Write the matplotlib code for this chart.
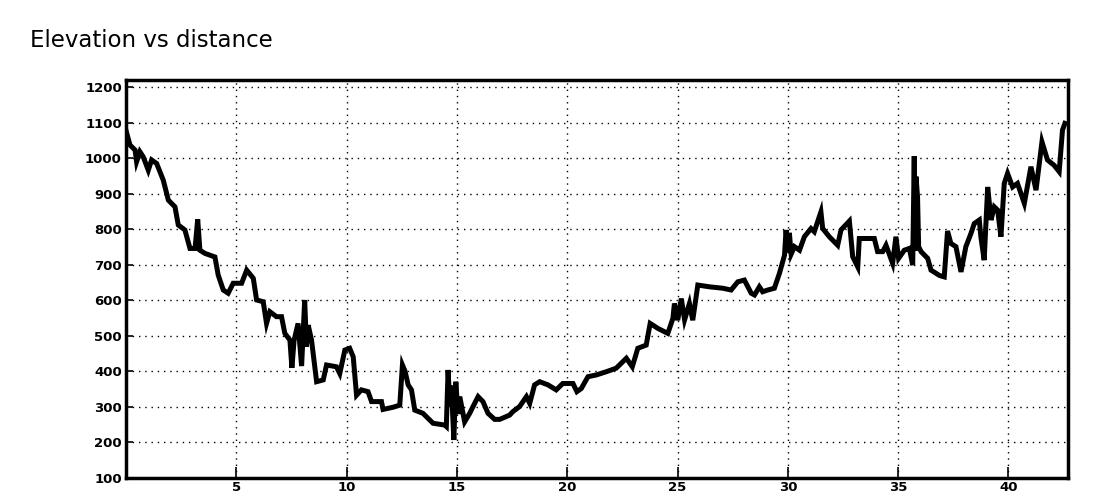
import matplotlib
matplotlib.use("Agg")
import matplotlib.pyplot as plt

# distance (km) and elevation (m)
dist = [0.0, 0.18, 0.41, 0.48, 0.63, 0.78, 1.01, 1.16, 1.39, 1.69, 1.92, 2.22, 2.37, 2.67,
        2.90, 3.13, 3.25, 3.35, 3.58, 4.03, 4.18, 4.41, 4.63, 4.86, 5.24, 5.47, 5.77, 5.92,
        6.22, 6.37, 6.52, 6.82, 7.05, 7.20, 7.43, 7.52, 7.62, 7.80, 7.96, 8.10, 8.18, 8.26,
        8.41, 8.64, 8.94, 9.09, 9.54, 9.69, 9.92, 10.14, 10.30, 10.45, 10.67, 10.97, 11.13,
        11.58, 11.65, 12.10, 12.41, 12.53, 12.65, 12.79, 12.94, 13.09, 13.46, 13.69, 13.92,
        14.45, 14.52, 14.60, 14.68, 14.75, 14.86, 14.95, 15.05, 15.13, 15.35, 15.58, 15.73,
        15.96, 16.18, 16.41, 16.71, 16.94, 17.39, 17.54, 17.84, 18.15, 18.30, 18.52, 18.75,
        19.13, 19.50, 19.80, 20.26, 20.44, 20.64, 20.94, 21.32, 21.77, 22.22, 22.68, 22.95,
        23.20, 23.58, 23.76, 24.11, 24.56, 24.79, 24.86, 25.01, 25.17, 25.32, 25.54, 25.69,
        25.92, 26.45, 27.05, 27.43, 27.73, 28.03, 28.34, 28.49, 28.71, 28.86, 29.09, 29.39,
        29.62, 29.85, 29.92, 30.00, 30.07, 30.15, 30.30, 30.53, 30.75, 31.05, 31.20, 31.50,
        31.58, 31.88, 32.26, 32.41, 32.79, 32.94, 33.17, 33.24, 33.92, 34.07, 34.30, 34.45,
        34.75, 34.90, 35.02, 35.28, 35.51, 35.66, 35.73, 35.77, 35.81, 35.88, 35.93, 36.04,
        36.34, 36.49, 36.87, 37.09, 37.24, 37.39, 37.62, 37.85, 38.07, 38.30, 38.45, 38.68,
        38.75, 38.90, 39.06, 39.21, 39.36, 39.51, 39.66, 39.81, 39.96, 40.19, 40.41, 40.72,
        41.02, 41.25, 41.52, 41.77, 42.07, 42.30, 42.45, 42.56]
elev = [1078, 1037, 1023, 990, 1018, 1004, 966, 995, 985, 938, 882, 863, 812, 798,
        746, 746, 828, 741, 732, 722, 671, 629, 620, 648, 648, 685, 662, 601,
        596, 535, 568, 554, 554, 507, 488, 410, 488, 535, 415, 601, 470, 530,
        488, 371, 376, 418, 413, 394, 460, 465, 441, 333, 348, 343, 315,
        315, 293, 299, 305, 418, 400, 362, 348, 291, 282, 268, 254,
        249, 245, 404, 300, 360, 207, 371, 280, 329, 258, 282, 301,
        329, 315, 282, 265, 265, 277, 287, 301, 329, 310, 362, 371,
        362, 348, 366, 366, 343, 352, 385, 390, 399, 409, 437, 413,
        465, 474, 535, 521, 507, 549, 591, 544, 605, 545, 591, 544,
        643, 638, 634, 629, 652, 657, 620, 615, 638, 624, 629, 634,
        676, 727, 798, 735, 790, 730, 751, 741, 779, 802, 793, 849,
        802, 779, 755, 798, 823, 723, 694, 774, 774, 737, 737, 755,
        704, 779, 718, 741, 746, 699, 1006, 740, 948, 891, 751, 737,
        718, 685, 670, 666, 795, 760, 751, 680, 751, 788, 816, 826,
        779, 713, 919, 826, 863, 854, 779, 929, 957, 919, 929, 873,
        976, 910, 1046, 995, 980, 962, 1079, 1098]

xticks = [5, 10, 15, 20, 25, 30, 35, 40]
yticks = [100, 200, 300, 400, 500, 600, 700, 800, 900, 1000, 1100, 1200]

fig = plt.figure(figsize=(11, 5), dpi=100)
ax = fig.add_axes([126 / 1100, 1 - 478 / 500, (1068 - 126) / 1100, (478 - 80) / 500])

ax.plot(dist, elev, color="black", linewidth=3.6, solid_joinstyle="miter")

ax.set_xlim(0, 42.7)
ax.set_ylim(100, 1220)
ax.set_xticks(xticks)
ax.set_yticks(yticks)
ax.grid(True, color="black", linestyle=(0, (1, 3.5)), linewidth=1)

for s in ax.spines.values():
    s.set_linewidth(2.5)
ax.tick_params(axis="both", direction="in", labelsize=9.5, width=1.2, color="black")
ax.tick_params(axis="x", length=8, pad=2)
ax.tick_params(axis="y", length=5, pad=3)
for lbl in ax.get_xticklabels() + ax.get_yticklabels():
    lbl.set_fontweight("bold")

fig.text(30 / 1100, 1 - 47 / 500, "Elevation vs distance", fontsize=16.5, va="baseline")

fig.savefig("out.png", dpi=100)
